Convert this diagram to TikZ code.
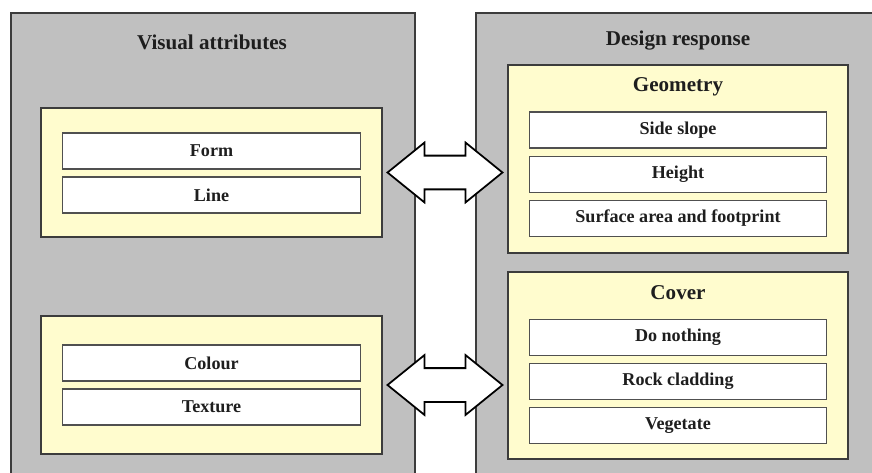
\documentclass[tikz,border=0pt]{standalone}
\usepackage{fontspec}
\setmainfont{Liberation Serif}
\usetikzlibrary{positioning,shapes.arrows,calc}
\definecolor{panelgray}{RGB}{192,192,192}
\definecolor{paleyellow}{RGB}{255,252,206}
\definecolor{edgegray}{RGB}{60,60,60}
\definecolor{inkgray}{RGB}{30,30,30}
\begin{document}
\begin{tikzpicture}[
  x=0.02cm, y=-0.02cm,
  every node/.style={font=\bfseries, text=inkgray},
  panelbox/.style={draw=edgegray, line width=1.1pt, fill=panelgray, anchor=north west, minimum width=8.08cm, minimum height=9.8cm},
  groupbox/.style={draw=edgegray, line width=0.9pt, fill=paleyellow, minimum width=6.82cm},
  itembox/.style={draw=edgegray!90, line width=0.8pt, fill=white, minimum width=5.95cm, minimum height=0.72cm, font=\fontsize{10.3}{12}\bfseries},
  titletext/.style={font=\fontsize{12}{14}\bfseries},
  bigarrow/.style={double arrow, draw=black, line width=1pt, fill=white, inner xsep=0pt, inner ysep=0.32cm, minimum height=2.3cm, double arrow head extend=0.26cm, double arrow tip angle=78}
]
\useasboundingbox (0,0) rectangle (872,473);
\clip (0,0) rectangle (872,473);

% the two panels
\node[panelbox] (visattr) at (10,12) {};
\node[panelbox] (desresp) at (475,12) {};
\node[titletext] (vistitle) at (212,42) {Visual attributes};
\node[titletext] (destitle) at (678,41) {Design response};

% visual attributes
\node[groupbox, minimum height=2.58cm] (visform) at (211.5,172.5) {};
\node[itembox] (form) at (211.5,151) {Form};
\node[itembox] (line) at (211.5,195) {Line};
\node[groupbox, minimum height=2.76cm] (viscolour) at (211.5,385) {};
\node[itembox] (colour) at (211.5,363) {Colour};
\node[itembox] (texture) at (211.5,407) {Texture};

% design response
\node[groupbox, minimum width=6.8cm, minimum height=3.76cm] (geometry) at (678,159) {};
\node[titletext] (geomtitle) at (678,87) {Geometry};
\node[itembox] (sideslope) at (678,130) {Side slope};
\node[itembox] (height) at (678,174.5) {Height};
\node[itembox] (surface) at (678,218.5) {Surface area and footprint};
\node[groupbox, minimum width=6.8cm, minimum height=3.74cm] (cover) at (678,365.5) {};
\node[titletext] (covertitle) at (678,293) {Cover};
\node[itembox] (donothing) at (678,337.5) {Do nothing};
\node[itembox] (rock) at (678,381.5) {Rock cladding};
\node[itembox] (vegetate) at (678,425.5) {Vegetate};

% links
\node[bigarrow] (formlink) at ($(visform.east)!0.5!(visform.east -| geometry.west)$) {};
\node[bigarrow] (colourlink) at ($(viscolour.east)!0.5!(viscolour.east -| cover.west)$) {};
\end{tikzpicture}
\end{document}
